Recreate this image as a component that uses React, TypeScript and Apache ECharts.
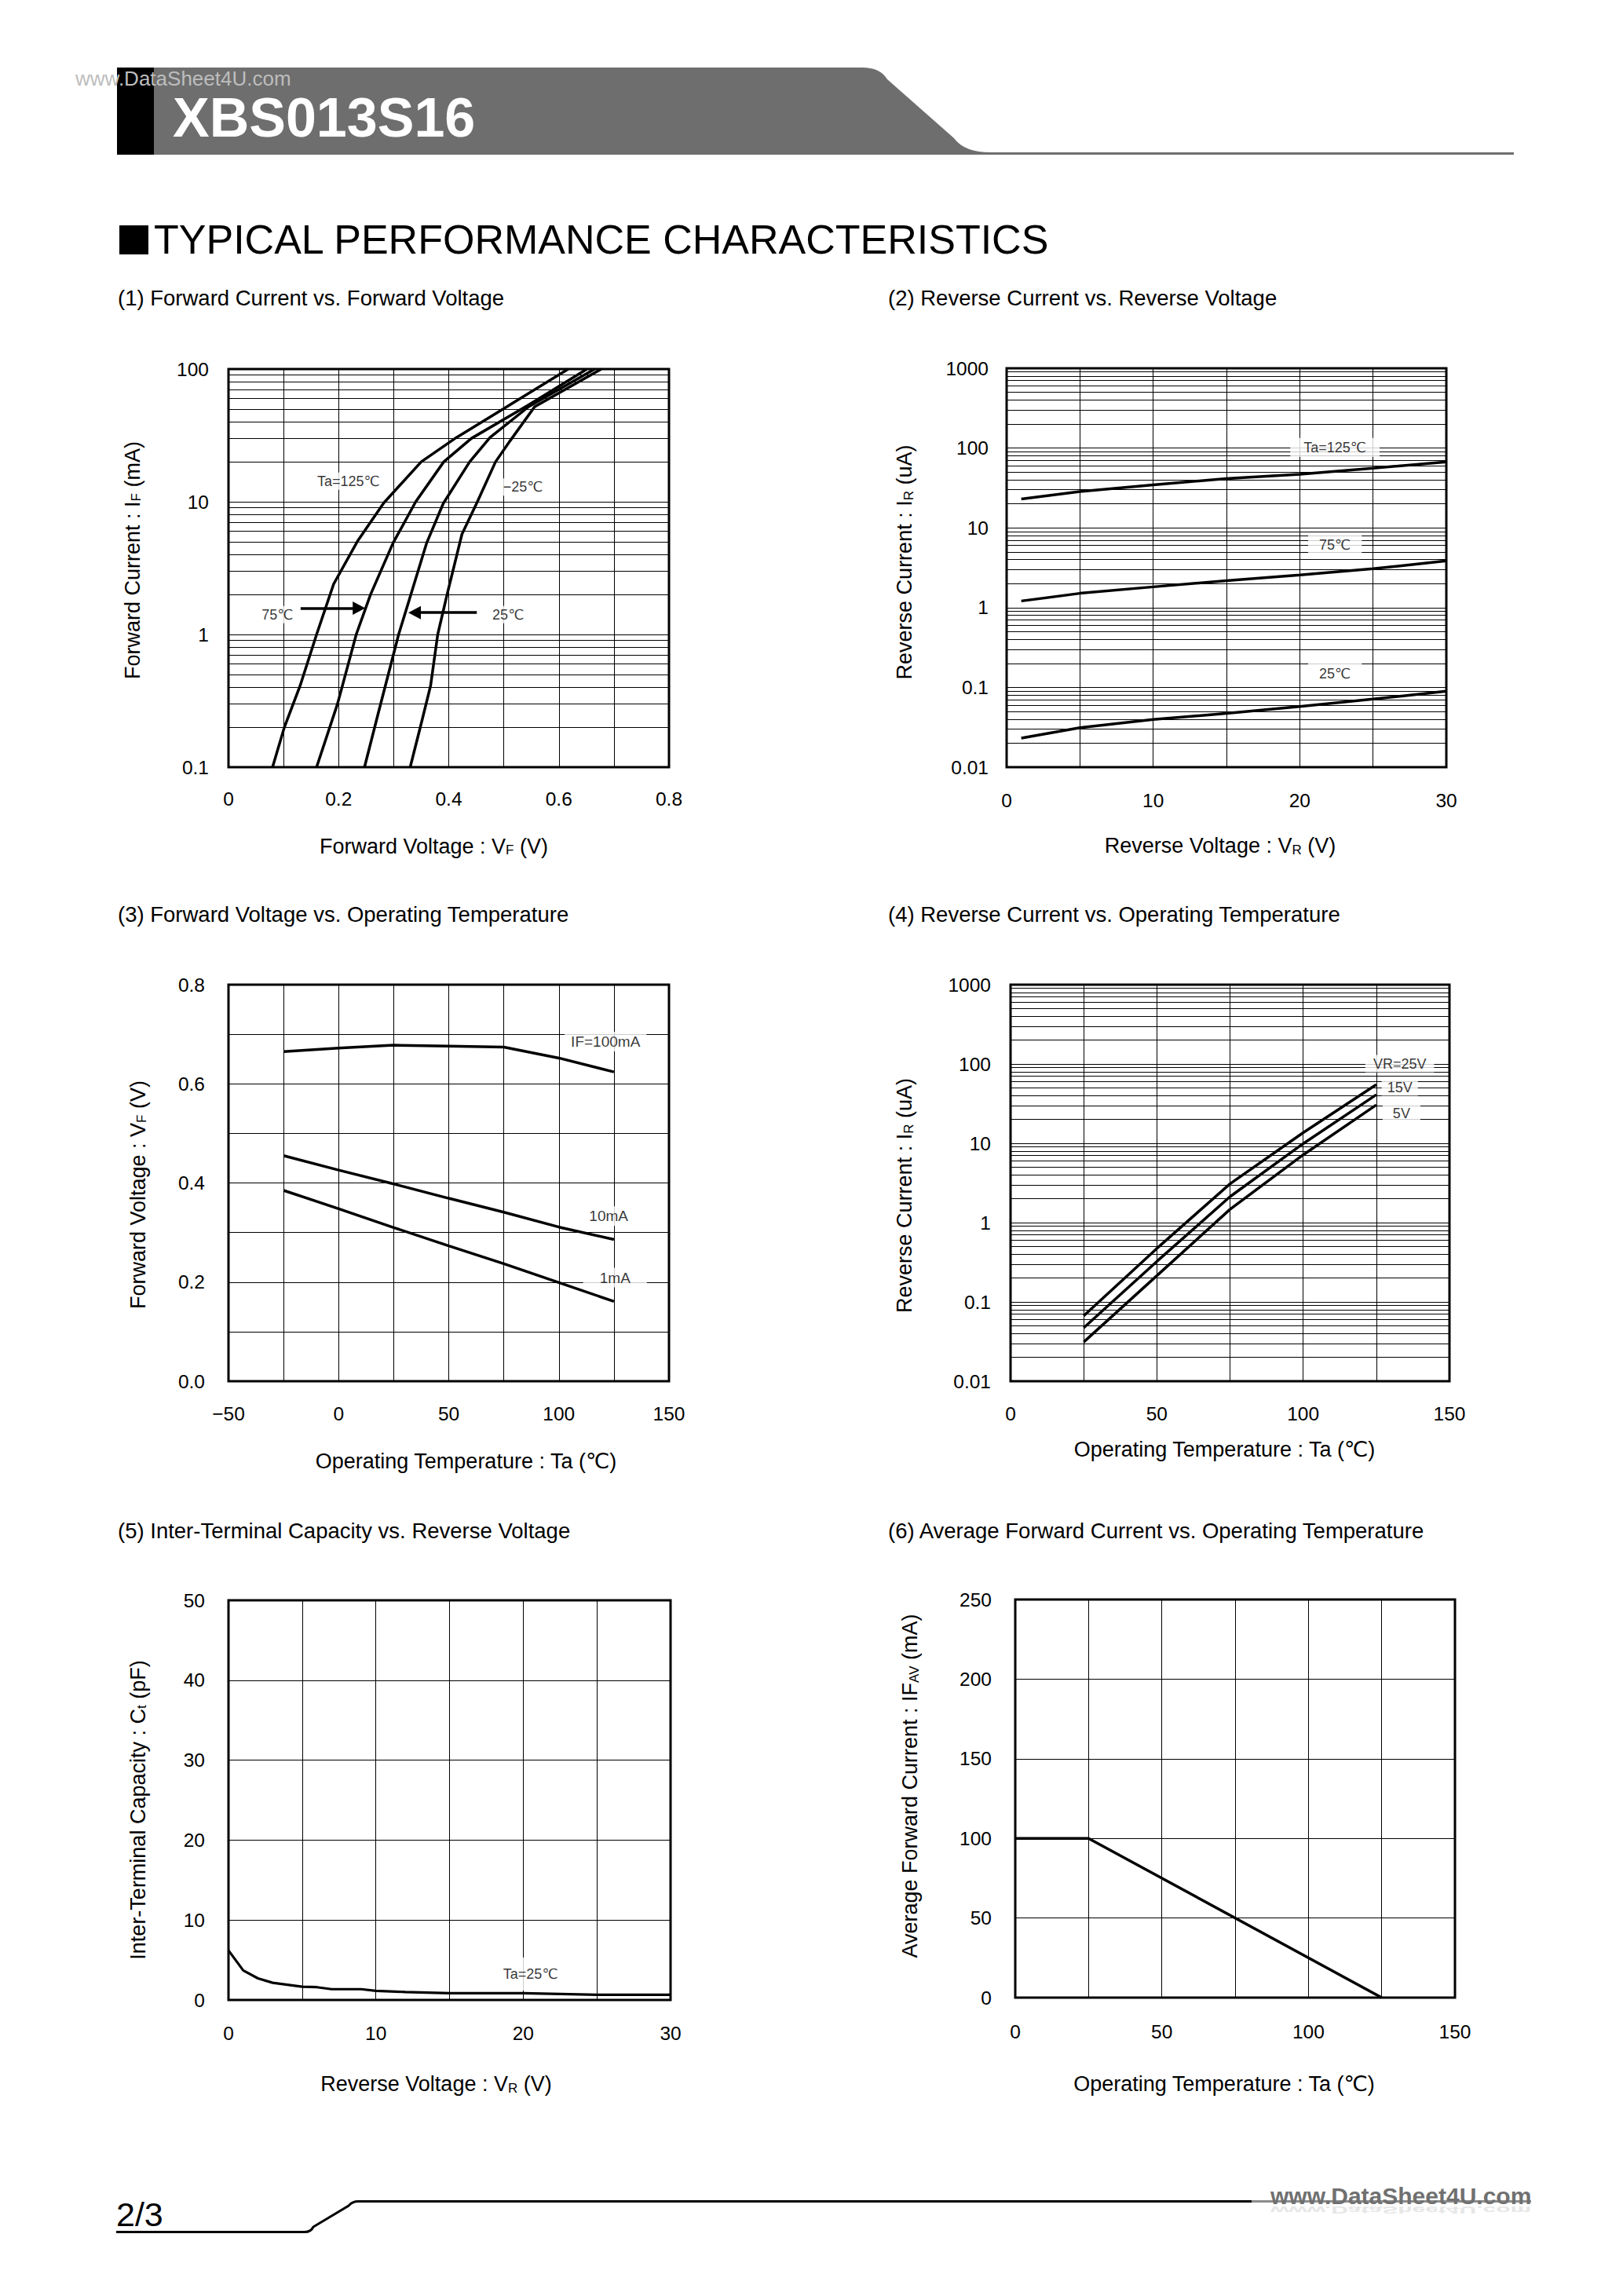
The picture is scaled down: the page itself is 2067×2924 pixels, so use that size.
import React, { useEffect, useRef } from 'react';
import * as echarts from 'echarts';

const FONT = '"Liberation Sans", Arial, Helvetica, "DejaVu Sans", sans-serif';

// ---------------- data ----------------
// (1) Forward current (mA) vs forward voltage (V)
const vfTa125: number[][] = [[0.080, 0.1], [0.1015, 0.2], [0.130, 0.41], [0.160, 1.0], [0.191, 2.4], [0.235, 5.1], [0.282, 9.8], [0.350, 20], [0.414, 30.5], [0.502, 51], [0.617, 100]];
const vfTa75: number[][] = [[0.160, 0.1], [0.198, 0.3], [0.232, 1.0], [0.258, 2.0], [0.299, 4.9], [0.340, 10], [0.391, 20], [0.441, 30], [0.543, 53], [0.651, 100]];
const vfTa25: number[][] = [[0.247, 0.1], [0.272, 0.255], [0.309, 1.0], [0.360, 4.9], [0.390, 9.7], [0.438, 20], [0.475, 30.5], [0.545, 52], [0.665, 100]];
const vfTaM25: number[][] = [[0.330, 0.1], [0.350, 0.213], [0.367, 0.41], [0.380, 1.0], [0.397, 2.0], [0.424, 5.7], [0.451, 9.8], [0.485, 20], [0.512, 29], [0.556, 52], [0.677, 100]];
const notes1: [number, number, string][] = [[0.218, 14.3, 'Ta=125℃'], [0.535, 12.9, '−25℃'], [0.089, 1.41, '75℃'], [0.508, 1.41, '25℃']];
const arrows1: number[][] = [[0.131, 0.237, 1.58], [0.451, 0.338, 1.46]];

// (2) Reverse current (uA) vs reverse voltage (V)
const vr2 = [1, 5, 10, 15, 20, 25, 30];
const ir125 = [23, 28.5, 34.5, 41.5, 47, 56, 67];
const ir75 = [1.21, 1.51, 1.82, 2.18, 2.57, 3.07, 3.85];
const ir25 = [0.0231, 0.0313, 0.0396, 0.0472, 0.0575, 0.0713, 0.0894];
const notes2: [number, number, string][] = [[22.4, 102, 'Ta=125℃'], [22.4, 6.1, '75℃'], [22.4, 0.15, '25℃']];

// (3) Forward voltage (V) vs operating temperature
const ta3 = [-25, 0, 25, 50, 75, 100, 125];
const vf100mA = [0.665, 0.672, 0.678, 0.676, 0.674, 0.652, 0.624];
const vf10mA = [0.455, 0.426, 0.398, 0.369, 0.341, 0.311, 0.286];
const vf1mA = [0.385, 0.348, 0.310, 0.273, 0.237, 0.199, 0.161];
const notes3: [number, number, string][] = [[121.2, 0.685, 'IF=100mA'], [122.6, 0.333, '10mA'], [125.5, 0.209, '1mA']];

// (4) Reverse current (uA) vs operating temperature
const ta4 = [25, 50, 75, 100, 125];
const irVr25 = [0.0667, 0.472, 3.08, 13.6, 55];
const irVr15 = [0.0472, 0.324, 2.12, 9.9, 41];
const irVr5 = [0.0312, 0.214, 1.47, 7.15, 30.5];
const notes4: [number, number, string][] = [[133, 101, 'VR=25V'], [133, 51, '15V'], [133.6, 23.9, '5V']];

// (5) Inter-terminal capacity (pF) vs reverse voltage
const vr5 = [0, 1, 2, 3, 5, 6, 7, 9, 10, 12, 15, 20, 25, 30];
const ct5 = [6.2, 3.7, 2.7, 2.15, 1.65, 1.6, 1.35, 1.35, 1.15, 1.0, 0.85, 0.85, 0.65, 0.65];
const notes5: [number, number, string][] = [[20.5, 3.24, 'Ta=25℃']];

// (6) Average forward current (mA) vs operating temperature
const ta6 = [0, 25, 125];
const ifav6 = [100, 100, 0];

const subtitles = [
  '(1) Forward Current vs. Forward Voltage',
  '(2) Reverse Current vs. Reverse Voltage',
  '(3) Forward Voltage vs. Operating Temperature',
  '(4) Reverse Current vs. Operating Temperature',
  '(5) Inter-Terminal Capacity vs. Reverse Voltage',
  '(6) Average Forward Current vs. Operating Temperature',
];

// ---------------- shapes ----------------
const HEADER_D = 'M196 86 L1098 86 Q1121 86 1130 101 L1215 176 Q1228 194 1262 194 L1928 194 L1928 197 L196 197 Z';
const FOOTER_D = 'M148 2842.5 L388 2842.5 Q396 2842.5 399 2836 L444 2809 Q449 2803.5 456 2803.5 L1594 2803.5';
echarts.graphic.registerShape('xbsHeader', echarts.graphic.extendPath(HEADER_D, {}));
echarts.graphic.registerShape('xbsFooter', echarts.graphic.extendPath(FOOTER_D, {}));

// ---------------- helpers ----------------
const pair = (xs: number[], ys: number[]) => xs.map((x, i) => [x, ys[i]]);

function logMinors(min: number, max: number) {
  const out: number[] = [];
  const e0 = Math.round(Math.log10(min));
  const e1 = Math.round(Math.log10(max));
  for (let e = e0; e < e1; e++) {
    for (let m = 2; m <= 9; m++) out.push(Number((m * Math.pow(10, e)).toPrecision(3)));
  }
  return out;
}

const fmtLog = (v: number) => (v >= 1 ? String(Math.round(v)) : String(parseFloat(v.toPrecision(2))));
const fmtSigned = (v: number) => (v < 0 ? '−' + Math.abs(v) : String(v));

const RICH = {
  s: { fontSize: 17, fontFamily: FONT, color: '#000', verticalAlign: 'bottom', lineHeight: 22 },
};

function namePad(shift: number) {
  return shift >= 0 ? [0, 0, 0, 2 * shift] : [0, -2 * shift, 0, 0];
}

const SPLIT = { show: true, lineStyle: { color: '#000', width: 1, type: 'solid' } };

function xAx(i: number, min: number, max: number, interval: number, fmt: any, margin: number, name: string, nameGap: number, shift: number) {
  return {
    gridIndex: i, type: 'value', min, max, interval,
    axisLine: { show: false }, axisTick: { show: false },
    splitLine: SPLIT,
    axisLabel: { margin, fontSize: 24.5, color: '#000', fontFamily: FONT, formatter: fmt, showMinLabel: true, showMaxLabel: true },
    name, nameLocation: 'middle', nameGap,
    nameTextStyle: { fontSize: 27, color: '#000', fontFamily: FONT, rich: RICH, padding: namePad(shift) },
  };
}

function yAx(i: number, log: boolean, min: number, max: number, interval: number | null, fmt: any, margin: number, name: string, nameGap: number, shiftDown: number) {
  const ax: any = {
    gridIndex: i, min, max,
    axisLine: { show: false }, axisTick: { show: false },
    splitLine: SPLIT,
    axisLabel: { margin, fontSize: 24.5, color: '#000', fontFamily: FONT, formatter: fmt, showMinLabel: true, showMaxLabel: true },
    name, nameLocation: 'middle', nameGap,
    nameTextStyle: { fontSize: 27, color: '#000', fontFamily: FONT, rich: RICH, padding: namePad(-shiftDown) },
  };
  if (log) { ax.type = 'log'; ax.logBase = 10; } else { ax.type = 'value'; ax.interval = interval; }
  return ax;
}

function curve(i: number, data: number[][], extra: any = {}) {
  return {
    type: 'line', xAxisIndex: i, yAxisIndex: i, data, symbol: 'none', showSymbol: false,
    lineStyle: { color: '#000', width: 3.5 }, itemStyle: { color: '#000' }, silent: true, z: 3,
    ...extra,
  };
}

function minorLines(min: number, max: number) {
  return {
    markLine: {
      silent: true, symbol: ['none', 'none'], label: { show: false },
      lineStyle: { color: '#000', width: 1, type: 'solid' }, emphasis: { disabled: true },
      data: logMinors(min, max).map((v) => ({ yAxis: v })),
    },
  };
}

function notes(i: number, items: [number, number, string][], pads: number[][], fontSize: number, extra: any = {}) {
  return {
    type: 'scatter', xAxisIndex: i, yAxisIndex: i, silent: true, z: 10, symbolSize: 1,
    itemStyle: { color: 'rgba(0,0,0,0)' },
    data: items.map((n, k) => ({ value: [n[0], n[1]], name: n[2], label: { padding: pads[k] } })),
    label: { show: true, position: 'inside', formatter: '{b}', color: '#000', fontSize, fontFamily: FONT, backgroundColor: '#fff' },
    ...extra,
  };
}

function txt(x: number, y: number, text: string, fontSize: number, extra: any = {}) {
  return {
    type: 'text', x, y, silent: true,
    style: {
      text, fontSize, fontFamily: FONT, fill: '#000',
      align: 'left', verticalAlign: 'middle', textAlign: 'left', textVerticalAlign: 'middle',
      ...extra,
    },
  };
}

function buildOption() {
  const GRIDS = [
    { left: 291, top: 470, width: 561, height: 507 },
    { left: 1282, top: 469, width: 560, height: 508 },
    { left: 291, top: 1254, width: 561, height: 505 },
    { left: 1287, top: 1254, width: 559, height: 505 },
    { left: 291, top: 2038, width: 563, height: 509 },
    { left: 1293, top: 2037, width: 560, height: 507 },
  ];

  const grid = GRIDS.map((g) => ({ ...g, show: true, borderColor: '#000', borderWidth: 3, backgroundColor: 'transparent', containLabel: false }));

  const xAxis = [
    xAx(0, 0, 0.8, 0.1, (v: number) => (Math.round(v * 10) % 2 === 0 ? (v === 0 ? '0' : v.toFixed(1)) : ''), 28, 'Forward Voltage : V{s|F} (V)', 87, -19),
    xAx(1, 0, 30, 5, (v: number) => (v % 10 === 0 ? String(v) : ''), 30, 'Reverse Voltage : V{s|R} (V)', 86.5, -8),
    xAx(2, -50, 150, 25, (v: number) => (v % 50 === 0 ? fmtSigned(v) : ''), 29, 'Operating Temperature : Ta (℃)', 88.5, 22),
    xAx(3, 0, 150, 25, (v: number) => (v % 50 === 0 ? String(v) : ''), 29, 'Operating Temperature : Ta (℃)', 73.5, -7),
    xAx(4, 0, 30, 5, (v: number) => (v % 10 === 0 ? String(v) : ''), 30, 'Reverse Voltage : V{s|R} (V)', 93.5, -17),
    xAx(5, 0, 150, 25, (v: number) => (v % 50 === 0 ? String(v) : ''), 31, 'Operating Temperature : Ta (℃)', 96.5, -14),
  ];

  const yAxis = [
    yAx(0, true, 0.1, 100, null, fmtLog, 25, 'Forward Current : I{s|F} (mA)', 109, -10),
    yAx(1, true, 0.01, 1000, null, fmtLog, 23, 'Reverse Current : I{s|R} (uA)', 116.5, -7),
    yAx(2, false, 0, 0.8, 0.1, (v: number) => (Math.round(v * 10) % 2 === 0 ? v.toFixed(1) : ''), 30, 'Forward Voltage : V{s|F} (V)', 102, 15),
    yAx(3, true, 0.01, 1000, null, fmtLog, 25, 'Reverse Current : I{s|R} (uA)', 121.5, 16),
    yAx(4, false, 0, 50, 10, (v: number) => String(v), 30, 'Inter-Terminal Capacity : C{s|t} (pF)', 102, 12.5),
    yAx(5, false, 0, 250, 50, (v: number) => String(v), 30, 'Average Forward Current : IF{s|AV} (mA)', 120.5, -16),
  ];

  const series: any[] = [
    // (1)
    curve(0, vfTa125, minorLines(0.1, 100)),
    curve(0, vfTa75),
    curve(0, vfTa25),
    curve(0, vfTaM25),
    notes(0, notes1, [[2, 4], [2, 4], [2, 4], [2, 4]], 18, {
      markLine: {
        silent: true, label: { show: false }, emphasis: { disabled: true },
        lineStyle: { color: '#000', width: 3.5, type: 'solid' },
        data: arrows1.map((a) => [
          { coord: [a[0], a[2]], symbol: 'none' },
          { coord: [a[1], a[2]], symbol: 'triangle', symbolSize: [17, 16] },
        ]),
      },
    }),
    // (2)
    curve(1, pair(vr2, ir125), minorLines(0.01, 1000)),
    curve(1, pair(vr2, ir75)),
    curve(1, pair(vr2, ir25)),
    notes(1, notes2, [[3, 17], [5, 14], [5, 14]], 18),
    // (3)
    curve(2, pair(ta3, vf100mA)),
    curve(2, pair(ta3, vf10mA)),
    curve(2, pair(ta3, vf1mA)),
    notes(2, notes3, [[3, 8], [3, 6], [3, 21]], 19),
    // (4)
    curve(3, pair(ta4, irVr25), minorLines(0.01, 1000)),
    curve(3, pair(ta4, irVr15)),
    curve(3, pair(ta4, irVr5)),
    notes(3, notes4, [[2, 10], [2, 7], [2, 13]], 18),
    // (5)
    curve(4, pair(vr5, ct5), { lineStyle: { color: '#000', width: 3.2 } }),
    notes(4, notes5, [[12, 10]], 18),
    // (6)
    curve(5, pair(ta6, ifav6)),
  ];

  const subPos = [[150, 379], [1131, 379], [150, 1164], [1131, 1164], [150, 1949], [1131, 1949]];

  const elements: any[] = [
    { type: 'xbsHeader', x: 0, y: 0, silent: true, style: { fill: '#6e6e6e' } },
    { type: 'rect', silent: true, shape: { x: 149, y: 86, width: 47, height: 111 }, style: { fill: '#000' } },
    txt(220, 150, 'XBS013S16', 70, { fill: '#fff', fontWeight: 'bold' }),
    txt(96, 100, 'www.DataSheet4U.com', 26, { fill: '#bdbdbd' }),
    { type: 'rect', silent: true, shape: { x: 152, y: 287, width: 37, height: 37 }, style: { fill: '#000' } },
    txt(196, 305, 'TYPICAL PERFORMANCE CHARACTERISTICS', 52),
    ...subtitles.map((s, k) => txt(subPos[k][0], subPos[k][1], s, 27.5)),
    { type: 'xbsFooter', x: 0, y: 0, silent: true, style: { fill: 'none', stroke: '#000', lineWidth: 3 } },
    { type: 'line', silent: true, shape: { x1: 1594, y1: 2803.5, x2: 1950, y2: 2803.5 }, style: { stroke: '#8c8c8c', lineWidth: 3 } },
    txt(148, 2820, '2/3', 43),
    {
      type: 'text', x: 1618, y: 2808, scaleY: -0.45, silent: true,
      style: { text: 'www.DataSheet4U.com', fontSize: 30, fontWeight: 'bold', fontFamily: FONT, fill: '#e6e6e6', align: 'left', verticalAlign: 'bottom', textAlign: 'left', textVerticalAlign: 'bottom' },
    },
    txt(1618, 2796, 'www.DataSheet4U.com', 30, { fill: '#707070', fontWeight: 'bold' }),
  ];

  return {
    animation: false,
    backgroundColor: '#fff',
    textStyle: { fontFamily: FONT },
    grid,
    xAxis,
    yAxis,
    series,
    graphic: { elements },
  };
}

export default function App() {
  const ref = useRef<HTMLDivElement>(null);
  useEffect(() => {
    if (!ref.current) return;
    const chart = echarts.init(ref.current, null, { renderer: 'svg' });
    chart.setOption(buildOption() as any);
    return () => chart.dispose();
  }, []);
  return (
    <div
      ref={ref}
      style={{ position: 'absolute', left: 0, top: 0, width: 2067, height: 2924, background: '#fff' }}
    />
  );
}
